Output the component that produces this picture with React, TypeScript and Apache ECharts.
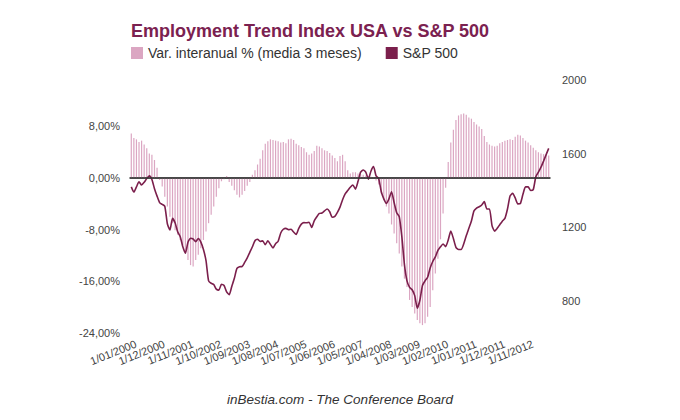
import React, { useEffect, useRef } from "react";
import * as echarts from "echarts";

const titleText = "Employment Trend Index USA vs S&P 500";
const barName = "Var. interanual % (media 3 meses)";
const lineName = "S&P 500";
const sourceText = "inBestia.com - The Conference Board";

// Monthly categories, Jan 2000 .. Jul 2013
const startYear = 2000;
const monthCount = 163;
const labelStep = 11;
const categories: string[] = [];
for (let i = 0; i < monthCount; i++) {
  const y = startYear + Math.floor(i / 12);
  const m = (i % 12) + 1;
  categories.push(`1/${m < 10 ? "0" + m : m}/${y}`);
}

// Employment Trend Index, yoy % (3-month average)
const etiValues: number[] = [
  6.9, 6.2, 6.0, 5.6, 5.8, 5.2, 4.6, 3.8, 3.6, 2.8,
  1.6, -0.3, -1.3, -2.9, -4.4, -6.0, -7.0, -8.1, -8.8, -9.6,
  -10.4, -11.4, -12.7, -13.5, -13.7, -12.7, -11.9, -10.9, -9.6, -8.3,
  -7.0, -5.7, -4.4, -2.9, -1.6, -0.5, -0.2, 0.3, -0.6, -1.2,
  -1.9, -2.6, -3.0, -2.6, -2.0, -1.2, -0.6, 0.5, 1.2, 2.1,
  3.0, 4.3, 5.3, 5.7, 6.0, 5.9, 5.8, 5.7, 5.5, 5.6,
  5.4, 6.0, 6.1, 5.9, 5.3, 5.1, 4.8, 4.6, 4.0, 3.6,
  3.8, 4.2, 5.0, 4.9, 4.6, 4.3, 4.2, 3.9, 3.5, 3.1,
  2.6, 3.4, 3.6, 2.6, 1.2, 0.7, 0.9, 0.9, 0.7, 0.6,
  0.5, 0.4, 0.3, 0.2, 0.1, -0.4, -1.0, -2.4, -3.4, -4.4,
  -5.5, -7.2, -8.6, -10.1, -11.7, -13.7, -15.6, -16.9, -18.9, -20.0,
  -21.0, -22.0, -22.5, -22.8, -22.5, -21.5, -20.0, -17.4, -14.8, -12.5,
  -9.5, -5.5, -1.5, 2.5, 5.5, 7.5, 9.0, 9.7, 9.9, 10.0,
  9.8, 9.4, 9.2, 8.7, 8.3, 8.0, 7.6, 6.5, 5.6, 5.2,
  5.0, 4.9, 5.0, 5.4, 5.6, 5.8, 5.9, 6.0, 5.9, 6.4,
  6.7, 6.6, 6.2, 5.8, 5.5, 5.1, 4.7, 4.3, 4.0, 3.8,
  3.7, 3.6, 3.5,
];

// S&P 500 monthly
const spxValues: number[] = [
  1420, 1392, 1420, 1448, 1430, 1445, 1465, 1480, 1460, 1410,
  1370, 1335, 1325, 1315, 1220, 1186, 1249, 1225, 1177, 1150,
  1095, 1060, 1120, 1141, 1137, 1123, 1140, 1120, 1080, 1020,
  910, 897, 890, 865, 860, 892, 885, 850, 835, 880,
  924, 978, 987, 988, 1010, 1035, 1065, 1095, 1128, 1136,
  1124, 1127, 1106, 1128, 1108, 1088, 1112, 1125, 1170, 1190,
  1195, 1188, 1190, 1175, 1162, 1195, 1218, 1226, 1225, 1228,
  1200, 1236, 1258, 1276, 1278, 1290, 1300, 1285, 1255, 1260,
  1282, 1310, 1350, 1382, 1400, 1418, 1430, 1408, 1450, 1500,
  1512, 1500, 1462, 1505, 1530, 1480, 1466, 1395, 1355, 1330,
  1355, 1394, 1335, 1280, 1258, 1150, 1000, 910, 875, 862,
  830, 762, 805, 885, 910, 930, 980, 1015, 1040, 1075,
  1095, 1110, 1096, 1132, 1180, 1140, 1092, 1080, 1080, 1110,
  1155, 1195, 1235, 1290, 1305, 1312, 1322, 1340, 1300, 1300,
  1210, 1180, 1195, 1215, 1234, 1249, 1300, 1370, 1385, 1360,
  1328, 1330, 1380, 1420, 1420, 1400, 1405, 1475, 1500, 1527,
  1560, 1595, 1629,
];

const barColor = "#dba6c2";
const lineColor = "#7b1f4c";
const titleColor = "#7b2150";

const xLabelStyle = {
  showMinLabel: true,
  showMaxLabel: true,
  hideOverlap: false,
  rotate: 22,
  fontSize: 11,
  color: "#444",
  margin: 7,
  padding: [0, -5, 0, 0],
  fontFamily: "Liberation Sans",
};

export default function App() {
  const ref = useRef<HTMLDivElement>(null);
  useEffect(() => {
    if (!ref.current) return;
    const chart = echarts.init(ref.current, undefined, { renderer: "svg" });
    chart.setOption({
      animation: false,
      backgroundColor: "#ffffff",
      textStyle: { fontFamily: "Liberation Sans" },
      title: {
        text: titleText,
        left: 131,
        top: 22,
        padding: 0,
        textStyle: {
          fontFamily: "Liberation Sans",
          fontSize: 18,
          fontWeight: "bold",
          color: titleColor,
        },
      },
      legend: {
        left: 131,
        top: 46,
        padding: 0,
        itemWidth: 12,
        itemHeight: 12,
        itemGap: 24,
        textStyle: { fontFamily: "Liberation Sans", fontSize: 14, color: "#333" },
        data: [
          { name: barName, icon: "rect" },
          { name: lineName, icon: "rect" },
        ],
      },
      grid: { left: 130, right: 130, top: 80, bottom: 82, containLabel: false },
      xAxis: [
        {
          type: "category",
          data: categories,
          boundaryGap: true,
          position: "bottom",
          axisLine: { show: true, lineStyle: { color: "#888", width: 2 } },
          axisTick: { show: false },
          axisLabel: {
            ...xLabelStyle,
            interval: (idx: number) => idx % (labelStep * 2) === 0,
          },
          splitLine: { show: false },
        },
        {
          type: "category",
          data: categories,
          boundaryGap: true,
          position: "bottom",
          axisLine: { show: false },
          axisTick: { show: false },
          axisLabel: {
            ...xLabelStyle,
            interval: (idx: number) => idx % (labelStep * 2) === labelStep,
          },
          splitLine: { show: false },
        },
      ],
      yAxis: [
        {
          type: "value",
          position: "left",
          min: -24.8,
          max: 15.2,
          interval: 0.4,
          axisLine: { show: false },
          axisTick: { show: false },
          splitLine: { show: false },
          axisLabel: {
            fontSize: 11,
            color: "#444",
            margin: 10,
            fontFamily: "Liberation Sans",
            formatter: (v: number) => {
              const k = Math.round(v / 8);
              if (Math.abs(v - k * 8) > 1e-6) return "";
              return (k * 8).toFixed(2).replace(".", ",") + "%";
            },
          },
        },
        {
          type: "value",
          position: "right",
          min: 600,
          max: 2000,
          interval: 200,
          axisLine: { show: false },
          axisTick: { show: false },
          splitLine: { show: false },
          axisLabel: {
            fontSize: 11,
            color: "#444",
            margin: 12,
            fontFamily: "Liberation Sans",
            formatter: (v: number) =>
              Math.round(v) % 400 === 0 && v >= 800 ? String(Math.round(v)) : "",
          },
        },
      ],
      series: [
        {
          name: barName,
          type: "bar",
          xAxisIndex: 0,
          yAxisIndex: 0,
          data: etiValues,
          barWidth: 1.2,
          itemStyle: { color: barColor },
          markLine: {
            silent: true,
            symbol: ["none", "none"],
            label: { show: false },
            lineStyle: { color: "#333", width: 1.5, type: "solid" },
            data: [{ yAxis: 0 }],
          },
        },
        {
          name: lineName,
          type: "line",
          xAxisIndex: 0,
          yAxisIndex: 1,
          data: spxValues,
          showSymbol: false,
          smooth: 0.2,
          lineStyle: { color: lineColor, width: 1.6 },
          itemStyle: { color: lineColor },
        },
      ],
      graphic: [
        {
          type: "text",
          left: "center",
          top: 392,
          style: {
            text: sourceText,
            fontFamily: "Liberation Sans",
            fontSize: 13.5,
            fontStyle: "italic",
            fill: "#333",
          },
        },
      ],
    });
    return () => chart.dispose();
  }, []);
  return (
    <div
      ref={ref}
      style={{ position: "absolute", left: 0, top: 0, width: 680, height: 420, background: "#fff" }}
    />
  );
}
